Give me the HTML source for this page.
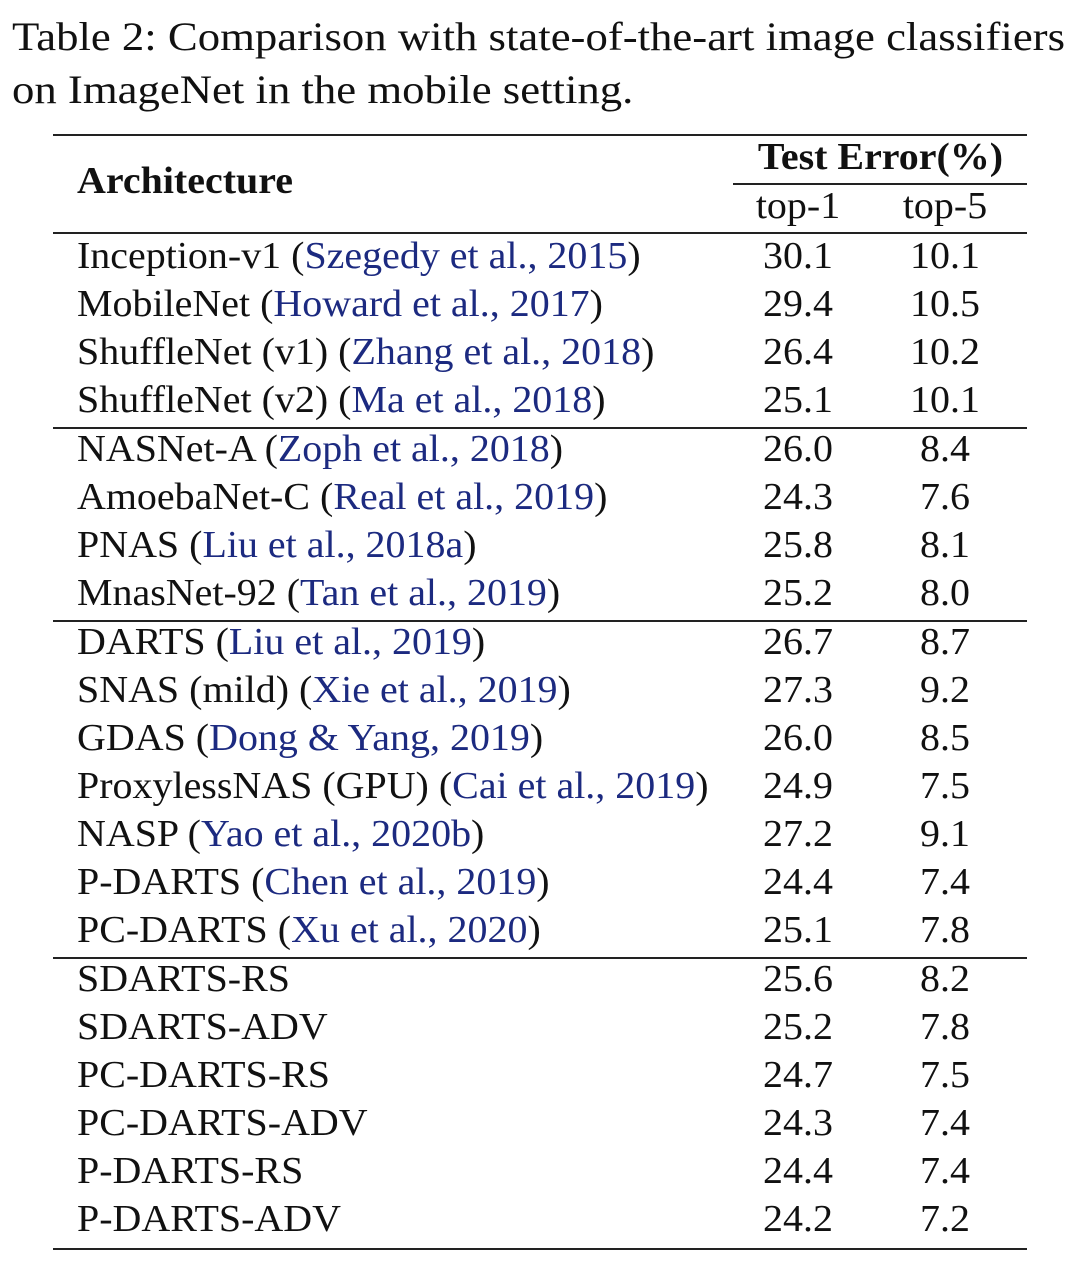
<!DOCTYPE html>
<html><head><meta charset="utf-8">
<style>
body{margin:0;width:1076px;height:1270px;background:#fff;position:relative;overflow:hidden;font-family:"Liberation Serif",serif;color:#111;}
.t{position:absolute;white-space:nowrap;font-size:38px;line-height:48px;transform-origin:0 50%;}
.c{position:absolute;white-space:nowrap;font-size:38px;line-height:48px;text-align:center;width:200px;transform-origin:50% 50%;}
.b{font-weight:bold;}
.r{position:absolute;height:2px;background:#222;}
.cite{color:#1c2a80;}
</style></head><body>
<div class="t" id="cap1" style="left:12px;top:13px;font-size:40px;">Table 2: Comparison with state-of-the-art image classifiers</div>
<div class="t" id="cap2" style="left:12px;top:66px;font-size:40px;">on ImageNet in the mobile setting.</div>
<div class="r" style="left:53px;width:974px;top:134px;"></div>
<div class="t b" style="left:77px;top:157px;">Architecture</div>
<div class="c b" style="left:763px;top:133px;">Test Error(%)</div>
<div class="r" style="left:733px;width:294px;top:183px;"></div>
<div class="c" style="left:698px;top:182px;">top-1</div>
<div class="c" style="left:845px;top:182px;">top-5</div>
<div class="r" style="left:53px;width:974px;top:232px;"></div>
<div id="rows"></div>
<script>
const names=["Inception-v1","MobileNet","ShuffleNet (v1)","ShuffleNet (v2)","NASNet-A","AmoebaNet-C","PNAS","MnasNet-92","DARTS","SNAS (mild)","GDAS","ProxylessNAS (GPU)","NASP","P-DARTS","PC-DARTS","SDARTS-RS","SDARTS-ADV","PC-DARTS-RS","PC-DARTS-ADV","P-DARTS-RS","P-DARTS-ADV"];
const cites=["Szegedy et al., 2015","Howard et al., 2017","Zhang et al., 2018","Ma et al., 2018","Zoph et al., 2018","Real et al., 2019","Liu et al., 2018a","Tan et al., 2019","Liu et al., 2019","Xie et al., 2019","Dong & Yang, 2019","Cai et al., 2019","Yao et al., 2020b","Chen et al., 2019","Xu et al., 2020","","","","","",""];
const top1=["30.1","29.4","26.4","25.1","26.0","24.3","25.8","25.2","26.7","27.3","26.0","24.9","27.2","24.4","25.1","25.6","25.2","24.7","24.3","24.4","24.2"];
const top5=["10.1","10.5","10.2","10.1","8.4","7.6","8.1","8.0","8.7","9.2","8.5","7.5","9.1","7.4","7.8","8.2","7.8","7.5","7.4","7.4","7.2"];
const groupStarts=[0,4,8,15];
const rowsEl=document.getElementById('rows');
const cap=document.getElementById('cap1');
const f=1053/cap.getBoundingClientRect().width;
const g=f*0.94;
cap.style.transform='scaleX('+f+')';
document.getElementById('cap2').style.transform='scaleX('+f+')';
document.querySelectorAll('.t.b').forEach(e=>e.style.transform='scaleX('+g+')');
document.querySelectorAll('.c').forEach(e=>e.style.transform='scaleX('+g+')');
let y=256;
names.forEach((n,i)=>{
  if(i>0&&groupStarts.includes(i)){
    y-=21;
    const r=document.createElement('div');r.className='r';
    
    
    r.style.cssText='left:53px;width:974px;top:'+(y)+'px;';rowsEl.appendChild(r);
    y+=22;
  }
  const d=document.createElement('div');d.className='t';
  
  
  d.style.left='77px';d.style.top=(y-24)+'px';d.style.transform='scaleX('+g+')';
  d.textContent=n;
  if(cites[i]){
    d.appendChild(document.createTextNode(' ('));
    const s=document.createElement('span');s.className='cite';s.textContent=cites[i];
    
    
    d.appendChild(s);d.appendChild(document.createTextNode(')'));
  }
  rowsEl.appendChild(d);
  [[top1[i],698,'top1-value'],[top5[i],845,'top5-value']].forEach(([v,x,nm])=>{
    const c=document.createElement('div');c.className='c';
    
    
    c.style.left=x+'px';c.style.top=(y-24)+'px';c.style.transform='scaleX('+g+')';
    c.textContent=v;rowsEl.appendChild(c);
  });
  y+=48;
});
const br=document.createElement('div');br.className='r';


br.style.cssText='left:53px;width:974px;top:1248px;';rowsEl.appendChild(br);
</script>
</body></html>
